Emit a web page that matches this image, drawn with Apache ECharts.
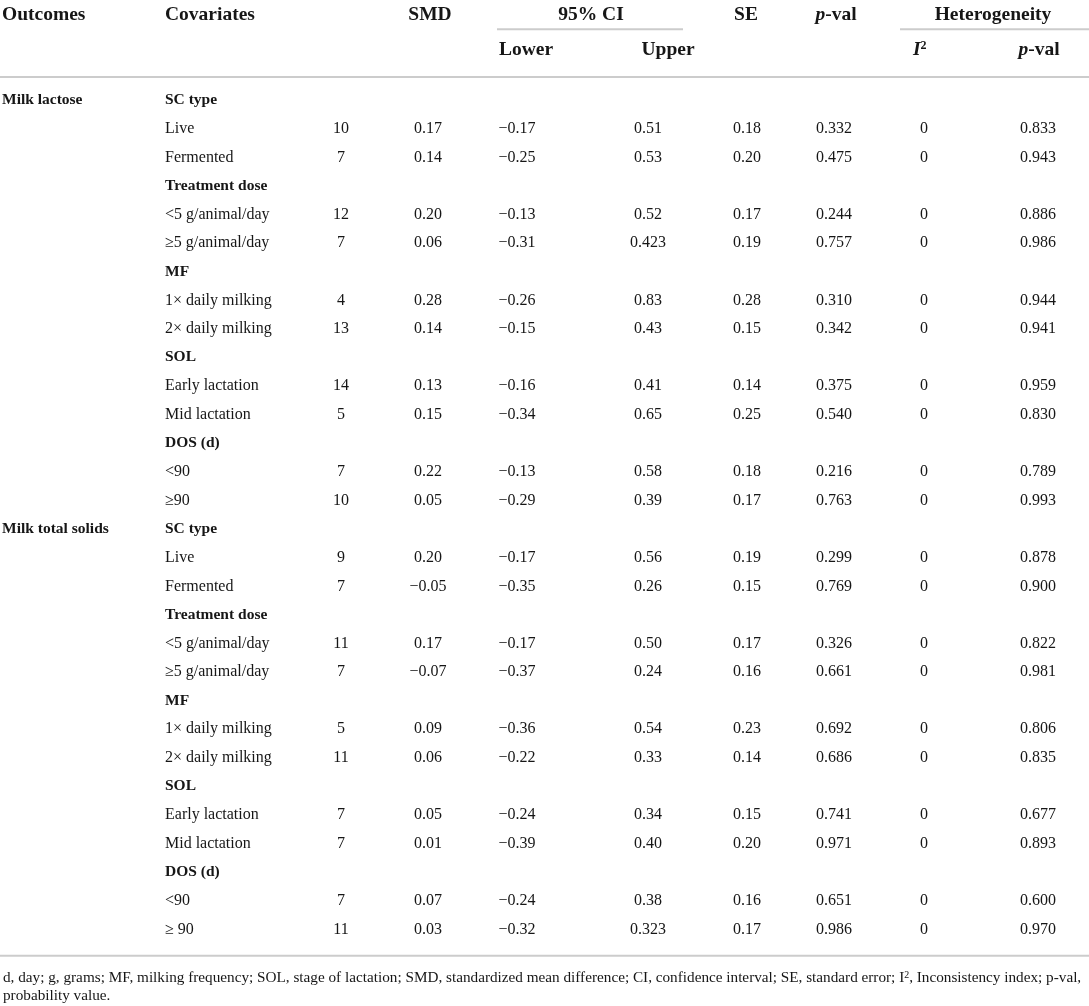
<!DOCTYPE html>
<html>
<head>
<meta charset="utf-8">
<script src="https://cdn.jsdelivr.net/npm/echarts@6/dist/echarts.min.js"></script>
<style>
html, body { margin: 0; padding: 0; background: #fff; }
#main { width: 1089px; height: 1006px; }
</style>
</head>
<body>
<div id="main"></div>
<script>
// ---- table content ----
var outcomes = ['Milk lactose', 'Milk total solids'];
var outcomeRows = [0, 15];
var groupRows = [0, 3, 6, 9, 12, 15, 18, 21, 24, 27];

var covariates = [
    'SC type', 'Live', 'Fermented',
    'Treatment dose', '<5 g/animal/day', '\u22655 g/animal/day',
    'MF', '1\u00d7 daily milking', '2\u00d7 daily milking',
    'SOL', 'Early lactation', 'Mid lactation',
    'DOS (d)', '<90', '\u226590',
    'SC type', 'Live', 'Fermented',
    'Treatment dose', '<5 g/animal/day', '\u22655 g/animal/day',
    'MF', '1\u00d7 daily milking', '2\u00d7 daily milking',
    'SOL', 'Early lactation', 'Mid lactation',
    'DOS (d)', '<90', '\u2265 90'
];

// null = group heading row (no values)
var nStudies = [null, '10', '7', null, '12', '7', null, '4', '13', null, '14', '5', null, '7', '10',
                null, '9', '7', null, '11', '7', null, '5', '11', null, '7', '7', null, '7', '11'];
var smd = [null, '0.17', '0.14', null, '0.20', '0.06', null, '0.28', '0.14', null, '0.13', '0.15', null, '0.22', '0.05',
           null, '0.20', '\u22120.05', null, '0.17', '\u22120.07', null, '0.09', '0.06', null, '0.05', '0.01', null, '0.07', '0.03'];
var ciLower = [null, '\u22120.17', '\u22120.25', null, '\u22120.13', '\u22120.31', null, '\u22120.26', '\u22120.15', null, '\u22120.16', '\u22120.34', null, '\u22120.13', '\u22120.29',
               null, '\u22120.17', '\u22120.35', null, '\u22120.17', '\u22120.37', null, '\u22120.36', '\u22120.22', null, '\u22120.24', '\u22120.39', null, '\u22120.24', '\u22120.32'];
var ciUpper = [null, '0.51', '0.53', null, '0.52', '0.423', null, '0.83', '0.43', null, '0.41', '0.65', null, '0.58', '0.39',
               null, '0.56', '0.26', null, '0.50', '0.24', null, '0.54', '0.33', null, '0.34', '0.40', null, '0.38', '0.323'];
var se = [null, '0.18', '0.20', null, '0.17', '0.19', null, '0.28', '0.15', null, '0.14', '0.25', null, '0.18', '0.17',
          null, '0.19', '0.15', null, '0.17', '0.16', null, '0.23', '0.14', null, '0.15', '0.20', null, '0.16', '0.17'];
var pVal = [null, '0.332', '0.475', null, '0.244', '0.757', null, '0.310', '0.342', null, '0.375', '0.540', null, '0.216', '0.763',
            null, '0.299', '0.769', null, '0.326', '0.661', null, '0.692', '0.686', null, '0.741', '0.971', null, '0.651', '0.986'];
var i2 = [null, '0', '0', null, '0', '0', null, '0', '0', null, '0', '0', null, '0', '0',
          null, '0', '0', null, '0', '0', null, '0', '0', null, '0', '0', null, '0', '0'];
var hetP = [null, '0.833', '0.943', null, '0.886', '0.986', null, '0.944', '0.941', null, '0.959', '0.830', null, '0.789', '0.993',
            null, '0.878', '0.900', null, '0.822', '0.981', null, '0.806', '0.835', null, '0.677', '0.893', null, '0.600', '0.970'];

var footLine1 = 'd, day; g, grams; MF, milking frequency; SOL, stage of lactation; SMD, standardized mean difference; CI, confidence interval; SE, standard error; {sym|I}{sup|2}, Inconsistency index; p-val,';
var footLine2 = 'probability value.';

// ---- layout / style ----
var FONT = '"Liberation Serif", "Times New Roman", serif';
var TEXT_COLOR = '#161616';
var RULE_COLOR = '#cccccc';
var HEAD_SIZE = 19.5;
var BODY_SIZE = 16;
var BOLD_SIZE = 15.5;

// x anchors (px) for each column
var COL_X = {
    outcome: 2, covariate: 165, n: 341, smd: 428, lower: 517,
    upper: 648, se: 747, p: 834, i2: 924, hetP: 1038
};
// y positions in row units (row 0 = first body row)
var Y_HEAD = -2.98, Y_SUB = -1.75, Y_FOOT1 = 30.7, Y_FOOT2 = 31.32;
var RULES = [
    [497, 683, -2.48],    // under 95% CI
    [900, 1089, -2.48],   // under Heterogeneity
    [0, 1089, -0.81],     // under header
    [0, 1089, 29.92]      // table bottom
];

var cells = [];
function addCell(x, y, text, opts) {
    opts = opts || {};
    cells.push({
        value: [x, y],
        text: text,
        align: opts.align || 'center',
        size: opts.size || BODY_SIZE,
        weight: opts.weight || 'normal',
        rich: opts.rich
    });
}

var headRich = {
    it: { fontStyle: 'italic', fontWeight: 'bold', fontSize: HEAD_SIZE, fontFamily: FONT, fill: TEXT_COLOR },
    sup: { fontWeight: 'bold', fontSize: 12, fontFamily: FONT, fill: TEXT_COLOR, verticalAlign: 'top' }
};
var hb = { size: HEAD_SIZE, weight: 'bold' };
addCell(COL_X.outcome, Y_HEAD, 'Outcomes', { size: HEAD_SIZE, weight: 'bold', align: 'left' });
addCell(COL_X.covariate, Y_HEAD, 'Covariates', { size: HEAD_SIZE, weight: 'bold', align: 'left' });
addCell(430, Y_HEAD, 'SMD', hb);
addCell(591, Y_HEAD, '95% CI', hb);
addCell(746, Y_HEAD, 'SE', hb);
addCell(836, Y_HEAD, '{it|p}-val', { size: HEAD_SIZE, weight: 'bold', rich: headRich });
addCell(993, Y_HEAD, 'Heterogeneity', hb);
addCell(526, Y_SUB, 'Lower', hb);
addCell(668, Y_SUB, 'Upper', hb);
addCell(913, Y_SUB, '{it|I}{sup|2}', { size: HEAD_SIZE, weight: 'bold', align: 'left', rich: headRich });
addCell(1039, Y_SUB, '{it|p}-val', { size: HEAD_SIZE, weight: 'bold', rich: headRich });

outcomes.forEach(function (name, k) {
    addCell(COL_X.outcome, outcomeRows[k], name, { size: BOLD_SIZE, weight: 'bold', align: 'left' });
});
covariates.forEach(function (name, i) {
    var isGroup = groupRows.indexOf(i) >= 0;
    addCell(COL_X.covariate, i, name, isGroup ? { size: BOLD_SIZE, weight: 'bold', align: 'left' } : { align: 'left' });
});
var valueCols = [
    ['n', nStudies], ['smd', smd], ['lower', ciLower], ['upper', ciUpper],
    ['se', se], ['p', pVal], ['i2', i2], ['hetP', hetP]
];
valueCols.forEach(function (col) {
    col[1].forEach(function (v, i) {
        if (v !== null) addCell(COL_X[col[0]], i, v);
    });
});

// footnote size chosen so the first line fills the table width
var mctx = document.createElement('canvas').getContext('2d');
mctx.font = '100px ' + FONT;
var plainFoot = footLine1.replace('{sym|I}{sup|2}', 'I2');
var FOOT_SIZE = 100 * 1082 / mctx.measureText(plainFoot).width;
var footRich = {
    sym: { fontSize: FOOT_SIZE, fontFamily: FONT, fill: TEXT_COLOR },
    sup: { fontSize: FOOT_SIZE * 0.65, fontFamily: FONT, fill: TEXT_COLOR, verticalAlign: 'top' }
};
addCell(3, Y_FOOT1, footLine1, { size: FOOT_SIZE, align: 'left', rich: footRich });
addCell(3, Y_FOOT2, footLine2, { size: FOOT_SIZE, align: 'left' });

var chart = echarts.init(document.getElementById('main'));

var option = {
    animation: false,
    grid: { left: 0, right: 0, top: 0, bottom: 0 },
    xAxis: { type: 'value', min: 0, max: 1089, show: false },
    yAxis: { type: 'value', min: -3.5, max: 31.675, inverse: true, show: false },
    series: [
        {
            type: 'custom',
            name: 'rules',
            encode: { x: [0, 1], y: 2 },
            data: RULES,
            renderItem: function (params, api) {
                var a = api.coord([api.value(0), api.value(2)]);
                var b = api.coord([api.value(1), api.value(2)]);
                return {
                    type: 'line',
                    shape: { x1: a[0], y1: a[1], x2: b[0], y2: b[1] },
                    style: { stroke: RULE_COLOR, lineWidth: 2 }
                };
            }
        },
        {
            type: 'custom',
            name: 'cells',
            encode: { x: 0, y: 1 },
            data: cells.map(function (c) { return c.value; }),
            renderItem: function (params, api) {
                var c = cells[params.dataIndex];
                var pt = api.coord([api.value(0), api.value(1)]);
                return {
                    type: 'text',
                    x: pt[0],
                    y: pt[1],
                    style: {
                        text: c.text,
                        rich: c.rich,
                        fontFamily: FONT,
                        fontSize: c.size,
                        fontWeight: c.weight,
                        fill: TEXT_COLOR,
                        align: c.align,
                        verticalAlign: 'middle'
                    }
                };
            }
        }
    ]
};

chart.setOption(option);
</script>
</body>
</html>
